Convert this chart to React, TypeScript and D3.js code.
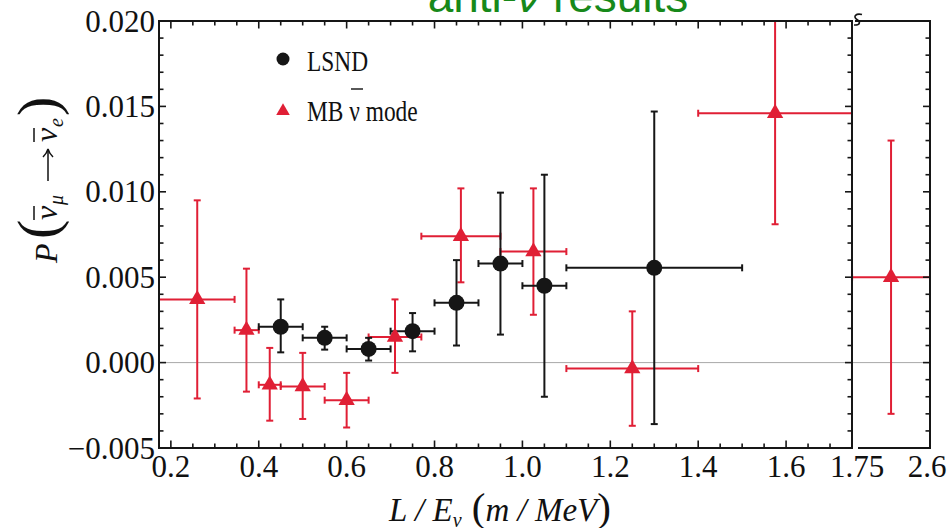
import React from "react";
import * as d3 from "d3";

// LSND data
const lsndX = [0.45, 0.55, 0.65, 0.75, 0.85, 0.95, 1.05, 1.3];
const lsndY = [0.0021, 0.00145, 0.0008, 0.00184, 0.0035, 0.0058, 0.0045, 0.00555];
const lsndYLo = [0.0006, 0.00076, 0.00012, 0.00066, 0.001, 0.00164, -0.002, -0.0036];
const lsndYHi = [0.0037, 0.0021, 0.00145, 0.0029, 0.006, 0.00995, 0.011, 0.0147];
const lsndXLo = [0.4, 0.5, 0.6, 0.7, 0.8, 0.9, 1.0, 1.1];
const lsndXHi = [0.5, 0.6, 0.7, 0.8, 0.9, 1.0, 1.1, 1.5];

// MiniBooNE anti-nu mode data
const mbX = [0.26, 0.372, 0.425, 0.5, 0.6, 0.71, 0.86, 1.025, 1.25, 1.575];
const mbY = [0.0037, 0.0019, -0.0013, -0.0014, -0.0022, 0.0015, 0.0074, 0.0065, -0.00035, 0.0146];
const mbYLo = [-0.0021, -0.0017, -0.0034, -0.0033, -0.0038, -0.0006, 0.0047, 0.0028, -0.0037, 0.0081];
const mbYHi = [0.0095, 0.0055, 0.00086, 0.00057, -0.0006, 0.0037, 0.0102, 0.0102, 0.003, 0.0211];
const mbXLo = [0.16, 0.345, 0.4, 0.45, 0.55, 0.65, 0.77, 0.95, 1.1, 1.4];
const mbXHi = [0.345, 0.4, 0.45, 0.55, 0.65, 0.77, 0.95, 1.1, 1.4, 1.76];

// Second panel (high L/E) MB point
const mb2X = [2.17];
const mb2Y = [0.005];
const mb2YLo = [-0.003];
const mb2YHi = [0.013];
const mb2XLo = [1.74];
const mb2XHi = [2.61];

const yTickLabels = ["\u22120.005", "0.000", "0.005", "0.010", "0.015", "0.020"];
const xTickLabels = ["0.2", "0.4", "0.6", "0.8", "1.0", "1.2", "1.4", "1.6"];

const RED = "#e01f35";
const BLACK = "#161616";
const SERIF = "Liberation Serif, Times New Roman, DejaVu Serif, serif";

export default function App() {
  const L = 159, R = 852, T = 21, B = 448;
  const P2L = 853, P2R = 930;
  const x = d3.scaleLinear().domain([0.173, 1.75]).range([L, R]);
  const x2 = d3.scaleLinear().domain([1.75, 2.6]).range([P2L, P2R]);
  const y = d3.scaleLinear().domain([-0.005, 0.02]).range([B, T]);

  const yTicks = d3.range(-5, 21).map((i) => ({ v: i / 1000, major: i % 5 === 0 }));
  const xTicks = d3.range(4, 36).map((i) => ({ v: i * 0.05, major: i % 4 === 0 }));
  const yMajor = [-0.005, 0, 0.005, 0.01, 0.015, 0.02];
  const xMajor = [0.2, 0.4, 0.6, 0.8, 1.0, 1.2, 1.4, 1.6];

  const tri = d3.symbol(d3.symbolTriangle, 115)();
  const triLegend = d3.symbol(d3.symbolTriangle, 80)();
  const cap = 3.5;

  const errBars = (xs, ys, ylo, yhi, xlo, xhi, sx, color, key) =>
    xs.map((xv, i) => {
      const cx = sx(xv), cy = y(ys[i]);
      const x0 = sx(xlo[i]), x1 = sx(xhi[i]);
      const y0 = y(ylo[i]), y1 = y(yhi[i]);
      return (
        <g key={key + i} stroke={color} strokeWidth={2}>
          <line x1={x0} x2={x1} y1={cy} y2={cy} />
          <line x1={cx} x2={cx} y1={y0} y2={y1} />
          <line x1={x0} x2={x0} y1={cy - cap} y2={cy + cap} />
          <line x1={x1} x2={x1} y1={cy - cap} y2={cy + cap} />
          <line x1={cx - cap} x2={cx + cap} y1={y0} y2={y0} />
          <line x1={cx - cap} x2={cx + cap} y1={y1} y2={y1} />
        </g>
      );
    });

  return (
    <svg width={949} height={528} style={{ position: "absolute", left: 0, top: 0, background: "#fff" }}>
      <defs>
        <clipPath id="clipMain">
          <rect x={L} y={T} width={R - L} height={B - T} />
        </clipPath>
        <clipPath id="clipP2">
          <rect x={P2L} y={T} width={P2R - P2L} height={B - T} />
        </clipPath>
      </defs>

      {/* title (cut off at top, as in the source image) */}
      <text x={558} y={12} textAnchor="middle" fontFamily="Liberation Sans, Arial, sans-serif" fontSize={46} fill="#17891a">
        anti-<tspan fontStyle="italic">ν</tspan> results
      </text>

      {/* zero line */}
      <line x1={L} x2={P2R} y1={y(0)} y2={y(0)} stroke="#a8a8a8" strokeWidth={1} />

      {/* main data */}
      <g clipPath="url(#clipMain)">
        {errBars(mbX, mbY, mbYLo, mbYHi, mbXLo, mbXHi, x, RED, "mb")}
        {errBars(lsndX, lsndY, lsndYLo, lsndYHi, lsndXLo, lsndXHi, x, BLACK, "ls")}
        {mbX.map((xv, i) => (
          <path key={"mt" + i} d={tri} transform={`translate(${x(xv)},${y(mbY[i])})`} fill={RED} />
        ))}
        {lsndX.map((xv, i) => (
          <circle key={"lc" + i} cx={x(xv)} cy={y(lsndY[i])} r={8} fill={BLACK} />
        ))}
      </g>

      {/* second panel data */}
      <g clipPath="url(#clipP2)">
        {errBars(mb2X, mb2Y, mb2YLo, mb2YHi, mb2XLo, mb2XHi, x2, RED, "m2")}
        {mb2X.map((xv, i) => (
          <path key={"m2t" + i} d={tri} transform={`translate(${x2(xv)},${y(mb2Y[i])})`} fill={RED} />
        ))}
      </g>

      {/* frames */}
      <g stroke={BLACK} strokeWidth={2} fill="none">
        <line x1={L} x2={R} y1={T} y2={T} />
        <line x1={L} x2={R} y1={B} y2={B} />
        <line x1={L} x2={L} y1={T - 1} y2={B + 1} />
        <line x1={R} x2={R} y1={T - 1} y2={B + 1} />
        <line x1={P2L + 2} x2={P2R} y1={T} y2={T} />
        <line x1={858} x2={P2R} y1={B} y2={B} />
        <line x1={P2R} x2={P2R} y1={T - 1} y2={B + 1} />
        <path d="M 862 14.5 C 856 13, 852.5 16.5, 857 19.5 C 861 22, 860 25.5, 854 25" strokeWidth={1.6} />
      </g>

      {/* ticks */}
      <g stroke={BLACK} strokeWidth={1.6}>
        {yTicks.map((t, i) => {
          const yy = y(t.v);
          const len = t.major ? 7 : 4.5;
          return (
            <g key={"yt" + i}>
              <line x1={L} x2={L + len} y1={yy} y2={yy} />
              <line x1={R} x2={R - len} y1={yy} y2={yy} />
              <line x1={P2R} x2={P2R - len} y1={yy} y2={yy} />
            </g>
          );
        })}
        {xTicks.map((t, i) => {
          const xx = x(t.v);
          const len = t.major ? 7.5 : 4.5;
          return (
            <g key={"xt" + i}>
              <line x1={xx} x2={xx} y1={B} y2={B - len} />
              <line x1={xx} x2={xx} y1={T} y2={T + len} />
            </g>
          );
        })}
      </g>

      {/* y tick labels */}
      <g fontFamily={SERIF} fontSize={31} fill="#111" textAnchor="end">
        {yMajor.map((v, i) => (
          <text key={"yl" + i} x={155} y={y(v) + 10.5}>{yTickLabels[i]}</text>
        ))}
      </g>

      {/* x tick labels */}
      <g fontFamily={SERIF} fontSize={31} fill="#111" textAnchor="middle">
        {xMajor.map((v, i) => (
          <text key={"xl" + i} x={x(v)} y={477}>{xTickLabels[i]}</text>
        ))}
        <text x={857} y={477}>1.75</text>
        <text x={927} y={477}>2.6</text>
      </g>

      {/* x axis label */}
      <text x={500} y={521} textAnchor="middle" fontFamily={SERIF} fontSize={33} fontStyle="italic" fill="#111">
        <tspan>L / E</tspan>
        <tspan fontSize={20} dy={6}>ν</tspan>
        <tspan dy={-6} fontStyle="normal" fontSize={41}> (</tspan>
        <tspan>m / MeV</tspan>
        <tspan fontStyle="normal" fontSize={41}>)</tspan>
      </text>

      {/* y axis label */}
      <g transform="translate(57,263) rotate(-90)" fontFamily={SERIF} fill="#111">
        <text x={0} y={0} fontSize={32} fontStyle="italic">P</text>
        <text x={24} y={0} fontSize={58}>(</text>
        <text x={43} y={0} fontSize={32} fontStyle="italic">ν</text>
        <line x1={43} x2={57} y1={-23} y2={-23} stroke="#111" strokeWidth={1.5} />
        <text x={58} y={6} fontSize={20} fontStyle="italic">μ</text>
        <line x1={82} x2={113} y1={-9} y2={-9} stroke="#111" strokeWidth={1.5} />
        <path d="M 106 -14 Q 110 -10 114 -9 Q 110 -8 106 -4" stroke="#111" strokeWidth={1.5} fill="none" />
        <text x={121} y={0} fontSize={32} fontStyle="italic">ν</text>
        <line x1={121} x2={135} y1={-23} y2={-23} stroke="#111" strokeWidth={1.5} />
        <text x={136} y={6} fontSize={20} fontStyle="italic">e</text>
        <text x={147} y={0} fontSize={58}>)</text>
      </g>

      {/* legend */}
      <circle cx={283} cy={59} r={6.5} fill={BLACK} />
      <text transform="translate(307,70.5) scale(0.78,1)" fontFamily={SERIF} fontSize={30} fill="#111">LSND</text>
      <path d={triLegend} transform="translate(283,111)" fill={RED} />
      <text transform="translate(307,120.5) scale(0.78,1)" fontFamily={SERIF} fontSize={30} fill="#111">
        MB <tspan>ν</tspan> mode
      </text>
      <line x1={351} x2={363} y1={89} y2={89} stroke="#111" strokeWidth={1.4} />
    </svg>
  );
}
